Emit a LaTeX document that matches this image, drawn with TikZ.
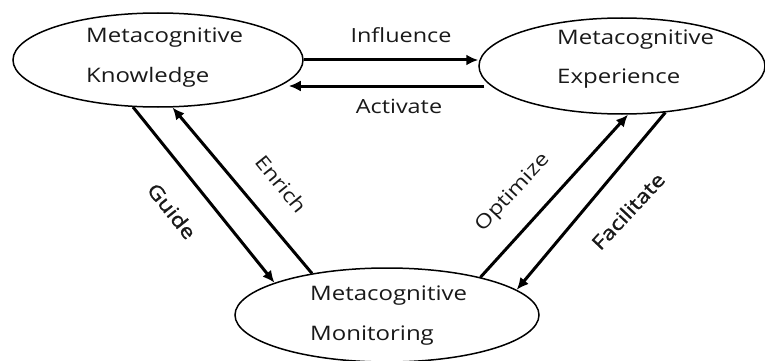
\documentclass[tikz,border=0pt]{standalone}
\usepackage{fontspec}
\setmainfont{Open Sans}[FakeStretch=1.2]
\newfontfamily\heavier{Open Sans}[FakeStretch=1.2,FakeBold=1.2]
\usetikzlibrary{shapes.geometric,arrows.meta}
\begin{document}
\begin{tikzpicture}[x=1pt,y=-1pt,
  oval/.style={draw, ellipse, line width=1.5pt, inner sep=0pt},
  txt/.style={anchor=base west, font=\fontsize{20}{24}\selectfont, inner sep=0pt, text=black!90},
  lbl/.style={font=\fontsize{19.5}{23}\selectfont, inner sep=0pt, text=black!90},
  arr/.style={line width=3pt, -{Latex[length=12pt,width=11pt]}}]
\path[use as bounding box] (0,0) rectangle (765,361);
% ellipses
\node[oval, minimum width=290pt, minimum height=94pt] (K) at (158,60) {};
\node[oval, minimum width=286pt, minimum height=96pt] (E) at (622,66) {};
\node[oval, minimum width=304pt, minimum height=94pt] (M) at (387,315) {};
% texts
\node[txt] (K1) at (86,43) {Metacognitive};
\node[txt] (K2) at (86,82) {Knowledge};
\node[txt] (E1) at (557,45) {Metacognitive};
\node[txt] (E2) at (557,83) {Experience};
\node[txt] (M1) at (310,300) {Metacognitive};
\node[txt] (M2) at (310,340) {Monitoring};
% horizontal arrows
\draw[arr] (K.east) -- (K.east -| E.west);
\path ([shift={(6pt,-20pt)}]E.west) coordinate (a1);
\path ([xshift=-15pt]K.east) coordinate (a2);
\draw[arr] (a1) -- (a1 -| a2);
% diagonal arrows
\draw[arr] (K.-118.4) -- (M.164.9);
\draw[arr] (M.151.8) -- (K.-73.7);
\draw[arr] (M.22) -- (E.-83.4);
\draw[arr] (E.-47.4) -- (M.11.5);
% labels
\node[lbl, anchor=base] (Linf) at (401,42) {Influence};
\node[lbl, anchor=base] (Lact) at (399,113) {Activate};
\node[lbl, rotate=-51.5] (Lgui) at (172,211) {\heavier Guide};
\node[lbl, rotate=-51] (Lenr) at (281,184) {Enrich};
\node[lbl, rotate=47] (Lopt) at (513,193) {Optimize};
\node[lbl, rotate=47] (Lfac) at (628,211) {\heavier Facilitate};
\end{tikzpicture}
\end{document}
